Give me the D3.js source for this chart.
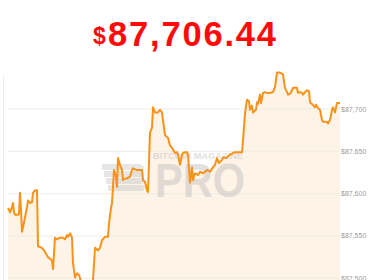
<!DOCTYPE html>
<html><head><meta charset="utf-8">
<script src="https://cdn.jsdelivr.net/npm/d3@7/dist/d3.min.js"></script>
<style>html,body{margin:0;padding:0;background:#fff;overflow:hidden}svg{display:block}</style>
</head><body><svg id="c" width="370" height="280"></svg>
<script>
const title = "87,706.44";
const yTicks = [87500, 87550, 87600, 87650, 87700];
const minutes = [0,1,2,4,5,6,7,10,11,12,13,14,16,17,19,20,22,24,25,27,29,30,32,34,36,37,39,40,42,44,45,47,49,52,55,57,59,60,62,64,65,67,69,71,72,74,76,82,84,85,87,90,92,94,97,100,101,103,104,105,106,108,109,110,112,114,115,117,119,122,124,125,128,130,134,135,137,139,140,142,144,145,147,150,152,154,155,157,159,160,162,164,165,167,169,170,172,174,175,177,179,180,182,184,185,187,189,190,192,195,199,202,205,207,209,211,214,215,218,222,225,227,230,234,235,237,239,241,242,244,245,248,249,250,252,253,255,257,259,262,265,267,269,272,275,277,279,280,282,284,285,289,290,292,294,295,297,299,301,302,304,305,307,308,310,312,314,315,319,320,322,324,325,327,329,332];
const prices = [87583,87581,87578,87584,87589,87578,87575,87575,87576,87601,87581,87555,87566,87572,87584,87592,87589,87590,87601,87604,87604,87538,87537,87536,87533,87531,87527,87525,87523,87521,87511,87548,87546,87548,87548,87546,87551,87549,87553,87548,87518,87501,87506,87504,87500,87492,87486,87486,87493,87498,87536,87533,87536,87545,87549,87549,87565,87583,87589,87608,87628,87620,87608,87642,87634,87628,87616,87618,87618,87620,87628,87630,87628,87628,87628,87616,87614,87604,87602,87672,87678,87702,87696,87696,87699,87696,87687,87669,87667,87666,87657,87654,87652,87648,87649,87646,87634,87646,87648,87649,87649,87646,87613,87631,87616,87624,87623,87622,87626,87624,87628,87626,87631,87634,87642,87636,87640,87643,87642,87646,87648,87649,87649,87649,87663,87695,87711,87709,87699,87704,87696,87699,87708,87706,87717,87707,87719,87720,87719,87719,87720,87726,87743,87743,87741,87725,87720,87717,87718,87722,87725,87725,87719,87720,87719,87717,87720,87722,87721,87708,87706,87705,87702,87705,87701,87699,87687,87685,87685,87683,87687,87699,87702,87696,87707,87707];

const data = minutes.map((m,i)=>({m, p: prices[i]}));
const svg = d3.select("#c");
const x = d3.scaleLinear().domain([0, 332]).range([8, 340]);
const y = d3.scaleLinear().domain([87500, 87700]).range([278.3, 109]);

// left border
svg.append("line").attr("x1",3.5).attr("x2",3.5).attr("y1",75).attr("y2",280)
  .attr("stroke","#ececec").attr("stroke-width",1);

// area
svg.append("path").datum(data)
  .attr("d", d3.area().x(d=>x(d.m)).y0(280).y1(d=>y(d.p)))
  .attr("fill","#fdf3e7");

// grid
svg.append("g").selectAll("line").data(yTicks).join("line")
  .attr("x1",8).attr("x2",340).attr("y1",d=>y(d)).attr("y2",d=>y(d))
  .attr("stroke","#f0ece6").attr("stroke-width",1);

// watermark
const wm = svg.append("g").attr("opacity",0.45);
const bars = [0,1,2,3];
wm.selectAll("path.bar").data(bars).join("path")
  .attr("d", i => { const y0 = 164 + i*7; const xs = 102 + i*2; return `M${xs},${y0} L${140+i*1},${y0} L${145},${y0+3} L${140+i*1},${y0+6} L${xs},${y0+6} Z`; })
  .attr("fill","#c8c8c8");
wm.append("text").attr("x",153).attr("y",159).text("BITCOIN MAGAZINE")
  .attr("font-family","Liberation Sans, Arial, sans-serif").attr("font-weight","bold")
  .attr("font-size",8.6).attr("fill","#bdbdbd").attr("textLength",90).attr("lengthAdjust","spacingAndGlyphs");
wm.append("text").attr("x",155).attr("y",197).text("PRO")
  .attr("font-family","Liberation Sans, Arial, sans-serif").attr("font-weight","bold")
  .attr("font-size",49).attr("fill","#bdbdbd").attr("textLength",90).attr("lengthAdjust","spacingAndGlyphs");

// line
svg.append("path").datum(data)
  .attr("d", d3.line().x(d=>x(d.m)).y(d=>y(d.p)))
  .attr("fill","none").attr("stroke","#f7931a").attr("stroke-width",2).attr("stroke-linejoin","round");

// axis labels
const fmt = d3.format(",");
svg.append("g").selectAll("text").data(yTicks).join("text")
  .attr("x",341).attr("y",d=>y(d)+2.5).text(d=>"$"+fmt(d))
  .attr("font-family","Liberation Sans, Arial, sans-serif").attr("font-size",7)
  .attr("fill","#9a9a9a");

// title
svg.append("text").attr("x",93).attr("y",44).text("$")
  .attr("font-family","Liberation Sans, Arial, sans-serif").attr("font-weight","bold")
  .attr("font-size",23).attr("fill","#ff0a0a");
svg.append("text").attr("x",108).attr("y",46).text(title)
  .attr("font-family","Liberation Sans, Arial, sans-serif").attr("font-weight","bold")
  .attr("font-size",34.5).attr("fill","#ff0a0a").attr("textLength",168).attr("lengthAdjust","spacing");
</script></body></html>
